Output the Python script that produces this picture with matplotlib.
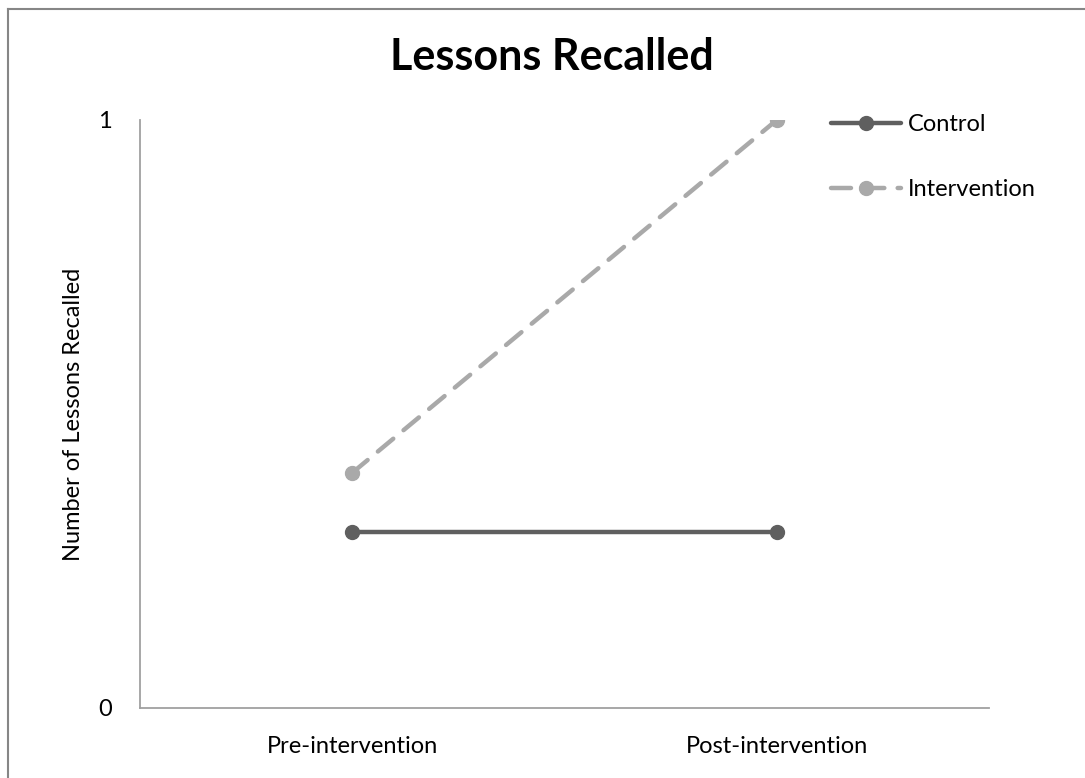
import matplotlib
matplotlib.use("Agg")
import matplotlib.pyplot as plt
from matplotlib.lines import Line2D

categories = ["Pre-intervention", "Post-intervention"]
control = [0.3, 0.3]
intervention = [0.4, 1.0]
yticks = [0, 1]

plt.rcParams['font.family'] = ['Lato', 'DejaVu Sans']

W, H = 1085, 778
fig = plt.figure(figsize=(W/100, H/100), dpi=100)
fig.patch.set_facecolor('white')
# outer chart border (left and top visible)
fig.add_artist(Line2D([8/W, 8/W], [0, 1 - 9/H], transform=fig.transFigure,
                      color='#868686', lw=1.5))
fig.add_artist(Line2D([8/W, 1], [1 - 9/H, 1 - 9/H], transform=fig.transFigure,
                      color='#868686', lw=1.5))

ax = fig.add_axes([140/W, 1 - 708/H, 849/W, 588/H])
x = list(range(len(categories)))
ax.plot(x, control, color='#5f5f5f', lw=3.2, marker='o', ms=10, label='Control',
        solid_capstyle='round')
ax.plot(x, intervention, color='#a9a9a9', lw=3.2, marker='o', ms=10, label='Intervention',
        dashes=(4.5, 3), dash_capstyle='round')
ax.set_xlim(-0.5, len(categories) - 0.5)
ax.set_ylim(0, 1)
ax.set_xticks(x)
ax.set_xticklabels(categories, fontsize=17)
ax.set_yticks(yticks)
ax.set_yticklabels([str(v) for v in yticks], fontsize=17)
ax.tick_params(length=0)
ax.tick_params(axis='x', pad=20)
ax.tick_params(axis='y', pad=20)
for s in ['top', 'right']:
    ax.spines[s].set_visible(False)
for s in ['left', 'bottom']:
    ax.spines[s].set_color('#a0a0a0')
    ax.spines[s].set_linewidth(1.3)
ax.set_ylabel('Number of Lessons Recalled', fontsize=17)
ax.yaxis.set_label_coords(-(140 - 73 - 11) / 849, 0.5)
fig.text(552/W, 1 - 57/H, 'Lessons Recalled', ha='center', va='center',
         fontsize=31, fontweight='bold')

leg = fig.legend(loc='upper left', bbox_to_anchor=(810/W, 1 - 93/H), frameon=False,
                 fontsize=17, handlelength=2.95, labelspacing=1.85, handletextpad=0.3)
fig.savefig('out.png', dpi=100)
